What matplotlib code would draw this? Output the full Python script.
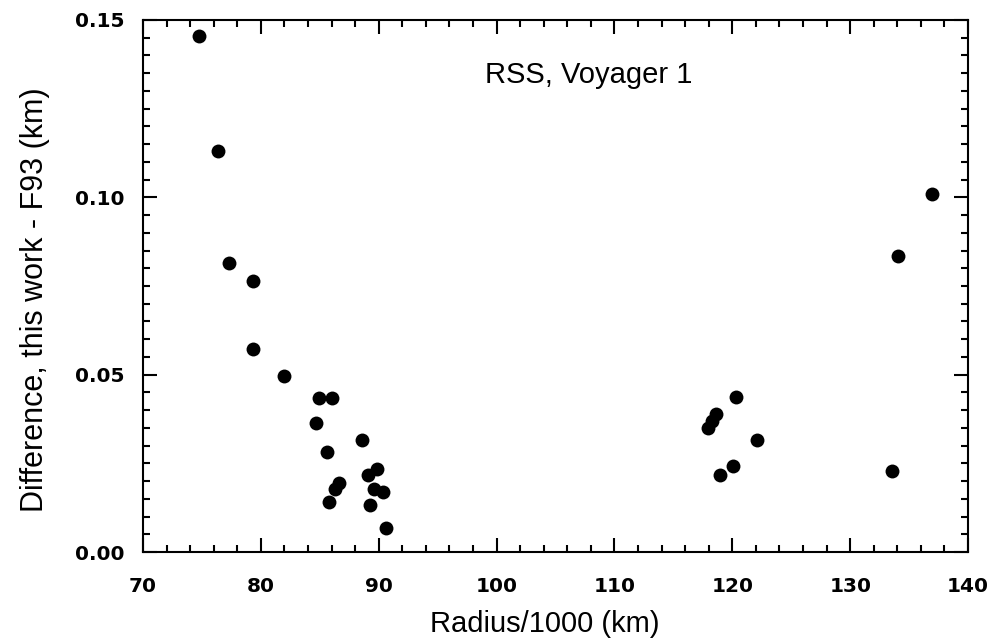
import matplotlib
matplotlib.use("Agg")
import matplotlib.pyplot as plt
from matplotlib.ticker import MultipleLocator

# ==== Data ====
radius = [74.75, 76.37, 77.28, 79.34, 79.29, 81.98, 84.90, 86.04, 84.71, 88.60,
          85.64, 89.87, 89.07, 86.60, 86.26, 89.64, 90.38, 85.75, 89.22, 90.58,
          120.34, 118.64, 118.24, 117.90, 122.13, 120.09, 118.98, 133.53, 136.90, 134.04]
diff = [0.1455, 0.1131, 0.0815, 0.0765, 0.0572, 0.0495, 0.0435, 0.0433, 0.0365, 0.0317,
        0.0281, 0.0234, 0.0217, 0.0195, 0.0178, 0.0178, 0.0168, 0.0140, 0.0133, 0.0069,
        0.0437, 0.0390, 0.0369, 0.0350, 0.0317, 0.0242, 0.0217, 0.0229, 0.1009, 0.0835]

plt.rcParams['font.family'] = ['Liberation Sans', 'DejaVu Sans']

fig = plt.figure(figsize=(9.98, 6.41), dpi=100)
ax = fig.add_axes([0.1433, 0.1388, 0.8267, 0.830])

ax.plot(radius, diff, 'o', color='black', markersize=10, markeredgewidth=0)

ax.set_xlim(70, 140)
ax.set_ylim(0, 0.15)
ax.xaxis.set_major_locator(MultipleLocator(10))
ax.xaxis.set_minor_locator(MultipleLocator(2))
ax.yaxis.set_major_locator(MultipleLocator(0.05))
ax.yaxis.set_minor_locator(MultipleLocator(0.005))
ax.yaxis.set_major_formatter(plt.FormatStrFormatter('%.2f'))

ax.tick_params(which='both', direction='in', top=True, right=True, width=1.5)
ax.tick_params(which='major', length=10, labelsize=14.5)
ax.tick_params(axis='x', which='major', pad=18)
ax.tick_params(axis='y', which='major', pad=13)
ax.tick_params(which='minor', length=5)
for lab in ax.get_xticklabels() + ax.get_yticklabels():
    lab.set_fontweight('bold')
    lab.set_family('DejaVu Sans')
for sp in ax.spines.values():
    sp.set_linewidth(1.5)

ax.set_xlabel("Radius/1000 (km)", fontsize=21)
ax.xaxis.set_label_coords(0.487, -0.109)
ax.set_ylabel("Difference, this work - F93 (km)", fontsize=22)
ax.yaxis.set_label_coords(-0.113, 0.474)
ax.text(0.54, 0.897, "RSS, Voyager 1", transform=ax.transAxes,
        fontsize=21, ha='center', va='center')

fig.savefig("out.png", dpi=100)
